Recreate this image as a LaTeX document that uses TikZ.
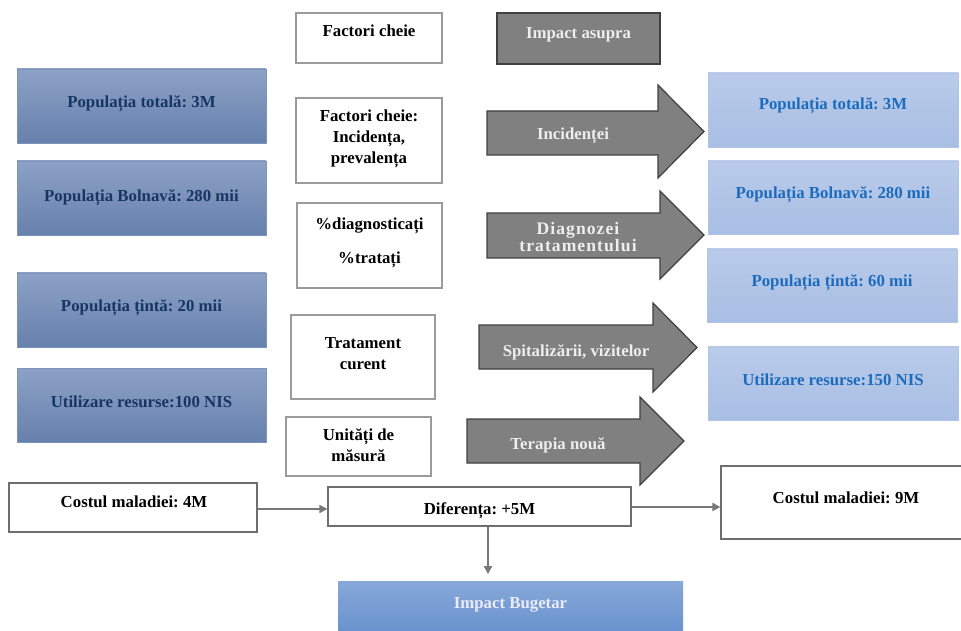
\documentclass[tikz,border=0pt]{standalone}
\usepackage{fontspec}
\setmainfont{Liberation Serif}
\newfontfamily\spacedfont[LetterSpace=6]{Liberation Serif}
\usetikzlibrary{calc,arrows.meta}
\frenchspacing
\definecolor{ltop}{RGB}{141,161,198}
\definecolor{lbot}{RGB}{102,129,172}
\definecolor{lborder}{RGB}{125,148,186}
\definecolor{ltext}{RGB}{22,55,98}
\definecolor{rtop}{RGB}{186,203,234}
\definecolor{rbot}{RGB}{168,190,227}
\definecolor{rborder}{RGB}{178,197,229}
\definecolor{rtext}{RGB}{28,108,190}
\definecolor{arrfill}{RGB}{128,128,128}
\definecolor{arrdraw}{RGB}{64,64,64}
\definecolor{arrtext}{RGB}{238,238,238}
\definecolor{btop}{RGB}{136,168,216}
\definecolor{bbot}{RGB}{92,138,202}
\definecolor{wborder}{RGB}{155,155,155}
\definecolor{cborder}{RGB}{110,110,110}
\definecolor{conn}{RGB}{120,120,120}
\tikzset{
  sz/.style 2 args={minimum width={#1*0.75pt}, minimum height={#2*0.75pt}},
  basebox/.style={rectangle, inner sep=0pt},
  lbox/.style={basebox, top color=ltop, bottom color=lbot, draw=lborder, line width=0.6pt},
  rbox/.style={basebox, top color=rtop, bottom color=rbot, draw=rborder, line width=0.6pt},
  wbox/.style={basebox, fill=white, draw=wborder, line width=0.9pt},
  cbox/.style={basebox, fill=white, draw=cborder, line width=0.9pt},
  gbox/.style={basebox, fill=arrfill, draw=arrdraw, line width=0.9pt},
  bbox/.style={basebox, top color=btop, bottom color=bbot, draw=none},
  ltxt/.style={text=ltext, inner sep=0pt},
  rtxt/.style={text=rtext, inner sep=0pt},
  btxt/.style={text=black, inner sep=0pt, align=center},
  wtxt/.style={text=arrtext, inner sep=0pt, align=center},
  blockarrow/.style={fill=arrfill, draw=arrdraw, line width=0.9pt, line join=miter},
  conn/.style={draw=conn, line width=1.4pt, -{Triangle[length=6pt,width=6pt]}},
}
\begin{document}
\begin{tikzpicture}[x=0.75pt,y=-0.75pt,font=\fontsize{12.6}{15.75}\selectfont\bfseries]
\useasboundingbox (0,0) rectangle (961,631);
% left boxes
\node[lbox, sz={249}{74}] (l1) at (141.5,106) {};
\node[ltxt] (l1t) at (141.5,104) {Populația totală: 3M};
\node[lbox, sz={249}{74}] (l2) at (141.5,198) {};
\node[ltxt] (l2t) at (141.5,198) {Populația Bolnavă: 280 mii};
\node[lbox, sz={249}{74}] (l3) at (141.5,310) {};
\node[ltxt] (l3t) at (141.5,308) {Populația țintă: 20 mii};
\node[lbox, sz={249}{74}] (l4) at (141.5,405) {};
\node[ltxt] (l4t) at (141.5,402) {Utilizare resurse:100 NIS};
% right boxes
\node[rbox, sz={250}{74}] (r1) at (833,110) {};
\node[rtxt] (r1t) at (833,106) {Populația totală: 3M};
\node[rbox, sz={250}{73}] (r2) at (833,197.5) {};
\node[rtxt] (r2t) at (833,195) {Populația Bolnavă: 280 mii};
\node[rbox, sz={250}{73}] (r3) at (832,285.5) {};
\node[rtxt] (r3t) at (832,283) {Populația țintă: 60 mii};
\node[rbox, sz={250}{74}] (r4) at (833,383) {};
\node[rtxt] (r4t) at (833,380) {Utilizare resurse:150 NIS};
% middle white boxes
\node[wbox, sz={146}{50}] (fc) at (369,38) {};
\node[btxt] (fct) at (369,31) {Factori cheie};
\node[wbox, sz={146}{85}] (inc) at (369,140.5) {};
\node[btxt] (inct) at (369,139) {Factori cheie:\\Incidența,\\prevalența};
\node[wbox, sz={145}{85}] (dg) at (369.5,245.5) {};
\node[btxt] (dg1) at (369.5,226) {\%diagnosticați};
\node[btxt] (dg2) at (369.5,260) {\%tratați};
\node[wbox, sz={144}{84}] (tr) at (363,357) {};
\node[btxt] (trt) at (363,354) {Tratament\\curent};
\node[wbox, sz={145}{59}] (um) at (358.5,446.5) {};
\node[btxt] (umt) at (358.5,445.5) {Unități de\\măsură};
% impact asupra
\node[gbox, sz={163}{51}] (ia) at (578.5,38.5) {};
\node[wtxt] (iat) at (578.5,35) {Impact asupra};
% block arrows
\draw[blockarrow] (487,111) -- (658,111) -- (658,85) -- (704,131.5) -- (658,178) -- (658,155) -- (487,155) -- cycle;
\node[wtxt] (a1t) at (573,136) {Incidenței};
\draw[blockarrow] (487,213) -- (660,213) -- (660,191) -- (704,235) -- (660,279) -- (660,258) -- (487,258) -- cycle;
\node[wtxt, font=\fontsize{13.2}{12.8}\selectfont\spacedfont\bfseries] (a2t) at (578,237) {Diagnozei\\tratamentului};
\draw[blockarrow] (479,325) -- (653,325) -- (653,303) -- (697,347.5) -- (653,392) -- (653,369) -- (479,369) -- cycle;
\node[wtxt] (a3t) at (576,352) {Spitalizării, vizitelor};
\draw[blockarrow] (467,419) -- (640,419) -- (640,397) -- (684,441) -- (640,485) -- (640,463) -- (467,463) -- cycle;
\node[wtxt] (a4t) at (558,445) {Terapia nouă};
% bottom
\node[cbox, sz={248}{49}] (c4) at (133,507.5) {};
\node[btxt] (c4t) at (134,502) {Costul maladiei: 4M};
\node[cbox, sz={303}{39}] (dif) at (479.5,506.5) {};
\node[btxt] (dift) at (479.5,511) {Diferența: +5M};
\node[cbox, sz={250}{73}] (c9) at (846,502.5) {};
\node[btxt] (c9t) at (846,498) {Costul maladiei: 9M};
\node[bbox, sz={345}{70}] (ib) at (510.5,616) {};
\node[wtxt, text=white!92!blue] (ibt) at (510.5,605) {Impact Bugetar};
% connectors
\coordinate (c4o) at ($(c4.east)+(0,1.5)$);
\draw[conn] (c4o) -- (c4o -| dif.west);
\coordinate (difo) at ($(dif.east)+(0,0.5)$);
\draw[conn] (difo) -- (difo -| c9.west);
\coordinate (dfs) at ($(dif.south)+(8.5,0)$);
\draw[conn, shorten >=5pt] (dfs) -- (dfs |- ib.north);
\end{tikzpicture}
\end{document}
